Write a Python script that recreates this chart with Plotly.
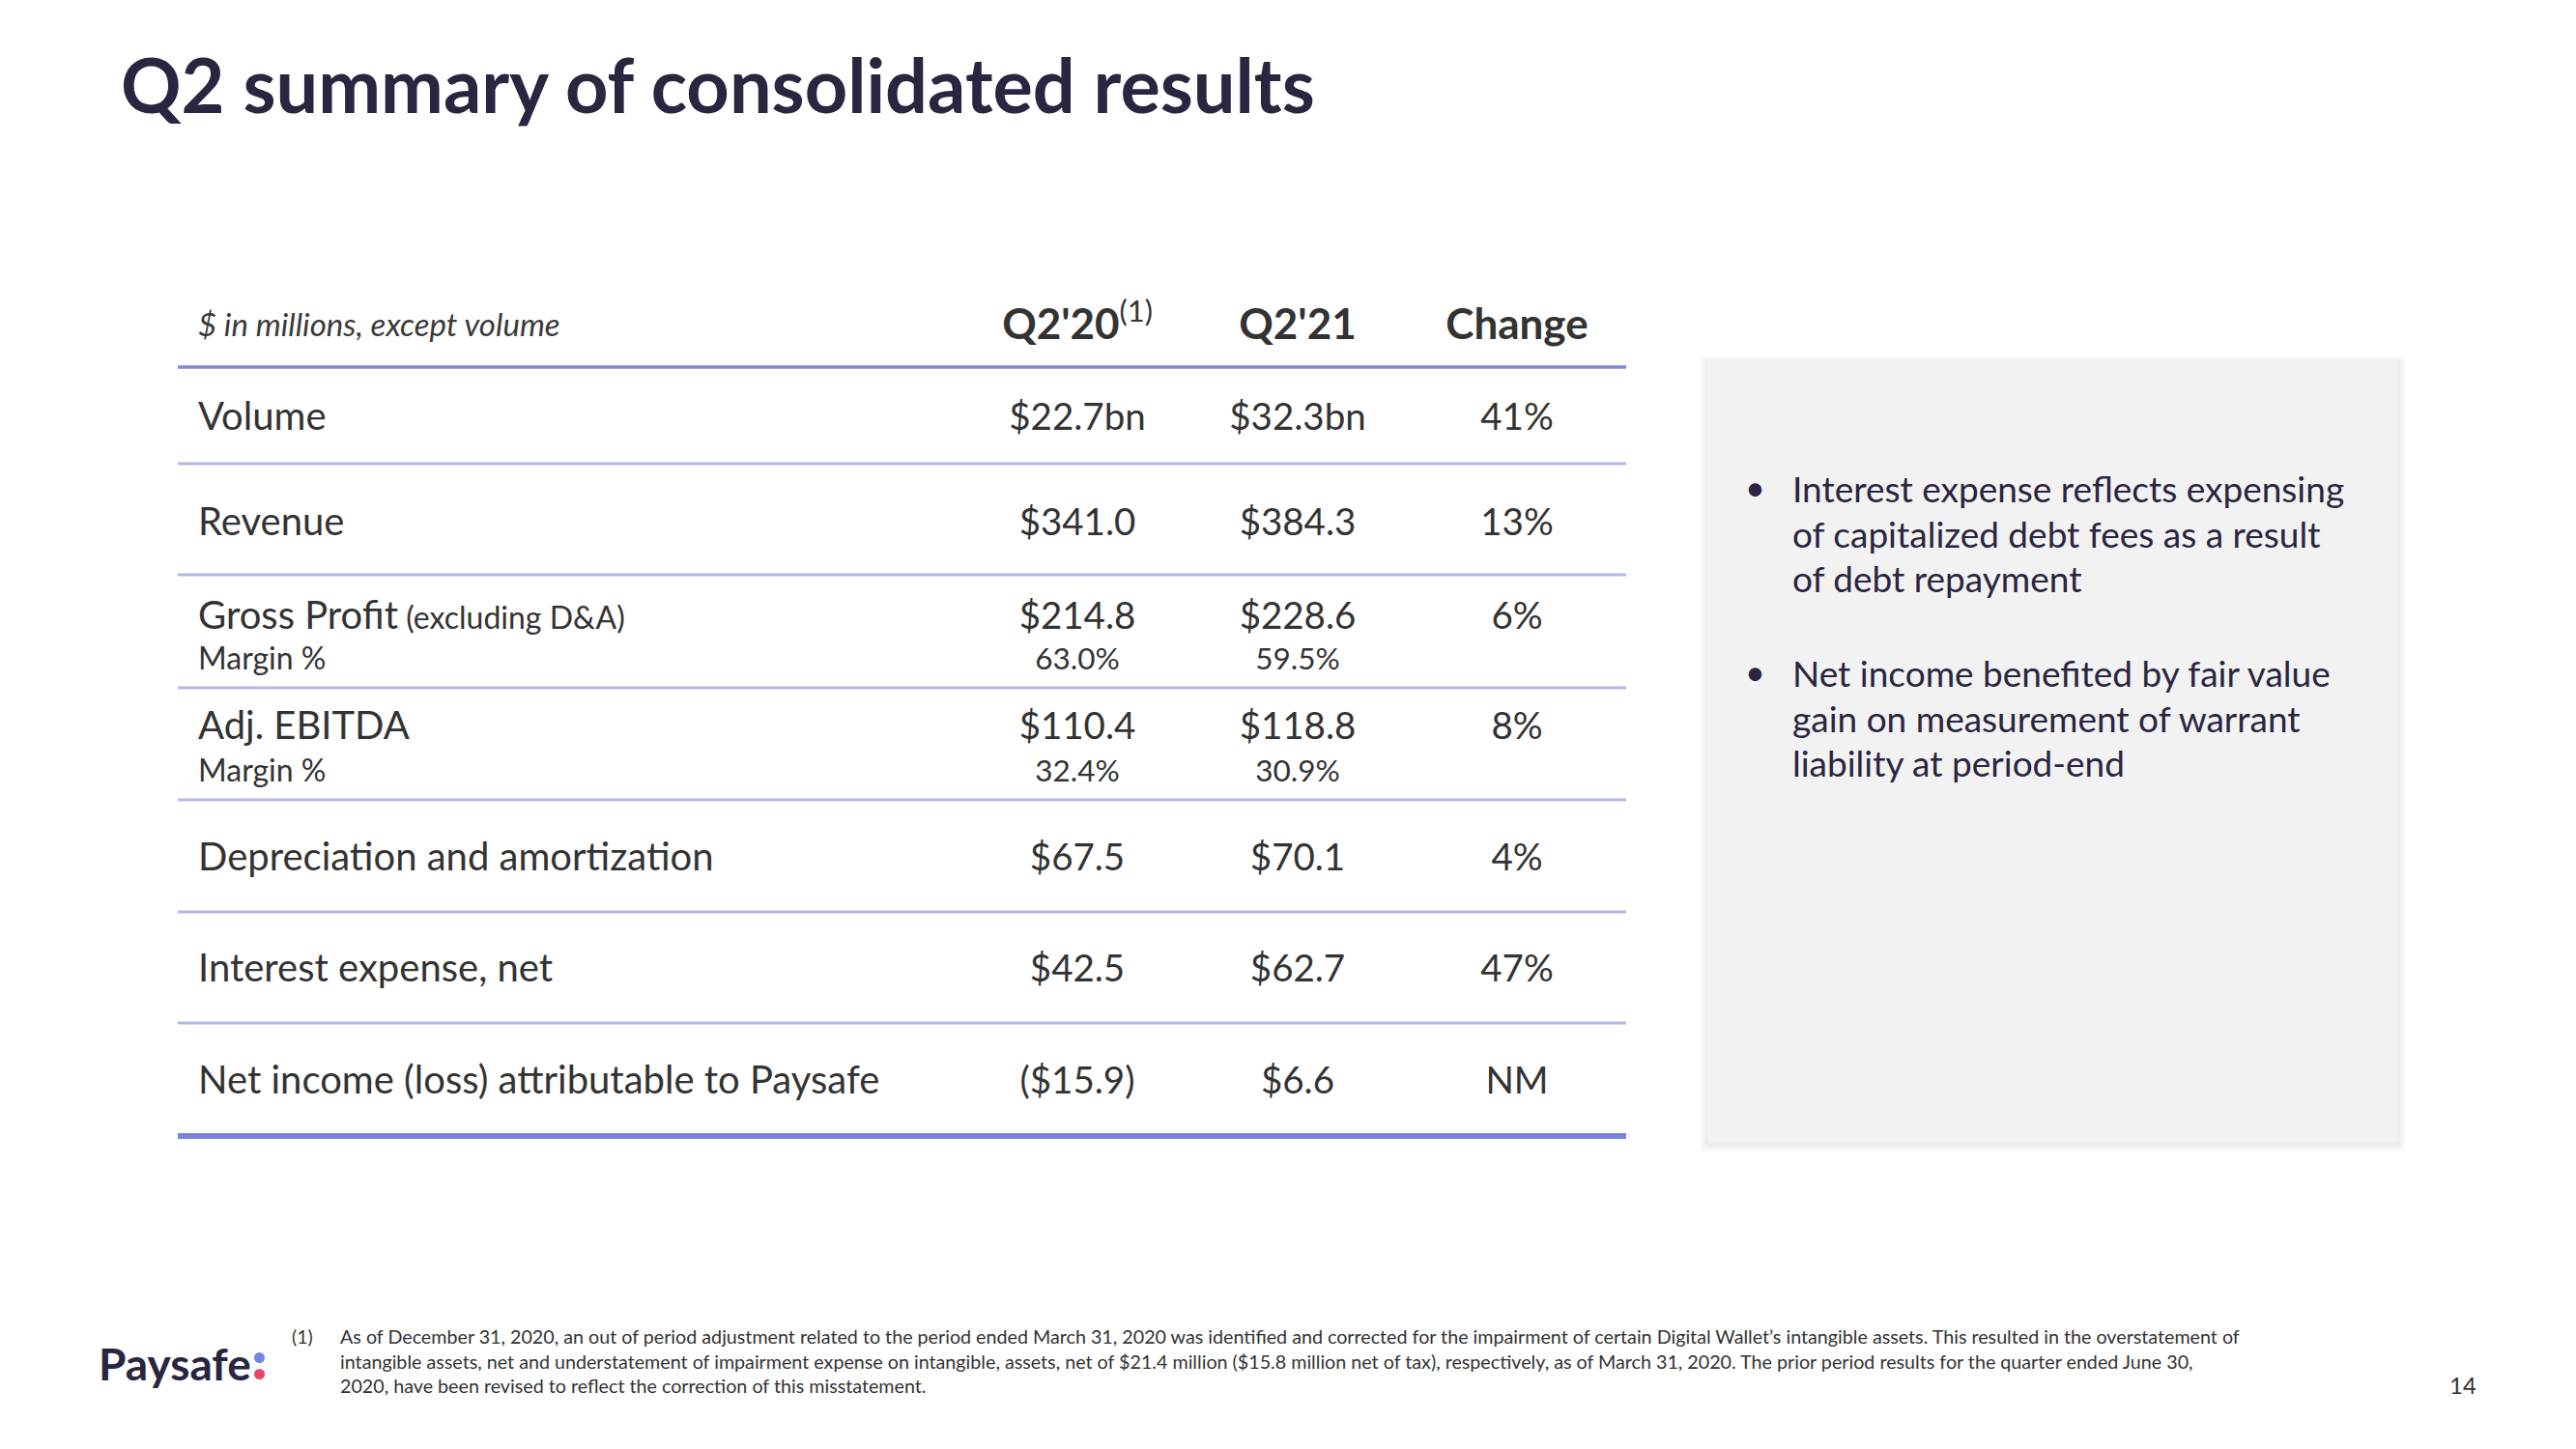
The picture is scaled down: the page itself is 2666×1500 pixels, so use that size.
import plotly.graph_objects as go

# ---------------- data ----------------
title_text = "Q2 summary of consolidated results"
unit_note = "$ in millions, except volume"
col_headers = ["Q2'20", "Q2'21", "Change"]
row_labels = ["Volume", "Revenue", "Gross Profit", "Adj. EBITDA",
              "Depreciation and amortization", "Interest expense, net",
              "Net income (loss) attributable to Paysafe"]
row_label_suffix = ["", "", " (excluding D&A)", "", "", "", ""]
q2_20 = ["$22.7bn", "$341.0", "$214.8", "$110.4", "$67.5", "$42.5", "($15.9)"]
q2_21 = ["$32.3bn", "$384.3", "$228.6", "$118.8", "$70.1", "$62.7", "$6.6"]
change = ["41%", "13%", "6%", "8%", "4%", "47%", "NM"]
margin_label = "Margin %"
margin_q2_20 = ["63.0%", "32.4%"]
margin_q2_21 = ["59.5%", "30.9%"]
bullets = [
    ["Interest expense reflects expensing", "of capitalized debt fees as a result", "of debt repayment"],
    ["Net income benefited by fair value", "gain on measurement of warrant", "liability at period-end"],
]
footnote_lines = [
    "As of December 31, 2020, an out of period adjustment related to the period ended March 31, 2020 was identified and corrected for the impairment of certain Digital Wallet\u2019s intangible assets. This resulted in the overstatement of",
    "intangible assets, net and understatement of impairment expense on intangible, assets, net of $21.4 million ($15.8 million net of tax), respectively, as of March 31, 2020. The prior period results for the quarter ended June 30,",
    "2020, have been revised to reflect the correction of this misstatement.",
]
page_number = "14"
logo_text = "Paysafe"

# ---------------- layout constants (pixels) ----------------
W, H = 2666, 1500
PAGE_MARGIN = 8  # default body margin of the html page
TEXT_DY = 5
FONT = "Lato"
NAVY = "#2a2540"
TXT = "#333333"
row_y = [430, 539, 636, 750, 886, 1001, 1117]
margin_y = [680, 796]
header_y = 335
label_x = 205
col_x = [1115, 1343, 1570]
line_x0, line_x1 = 184, 1683
light_lines = [480, 595, 712, 828, 944, 1059]
header_line = 380
bottom_line = 1176

fig = go.Figure()

def text_trace(xs, ys, texts, size, color, pos="middle center", family=FONT):
    fig.add_trace(go.Scatter(
        x=xs, y=[v + TEXT_DY for v in ys], text=texts, mode="text", textposition=pos,
        textfont=dict(family=family, size=size, color=color),
        hoverinfo="skip", showlegend=False, cliponaxis=False))

# title
text_trace([125], [93], [f"<b>{title_text}</b>"], 77.5, NAVY, "middle right")

# header
text_trace([label_x], [header_y], [f"<i>{unit_note}</i>"], 33, "#3a3a3a", "middle right")
hdr = [f"<b>{col_headers[0]}</b><sup>(1)</sup>", f"<b>{col_headers[1]}</b>", f"<b>{col_headers[2]}</b>"]
text_trace(col_x, [header_y] * 3, hdr, 44, TXT)

# row labels
labels = [lab + (f"<span style='font-size:32px'>{suf}</span>" if suf else "")
          for lab, suf in zip(row_labels, row_label_suffix)]
text_trace([label_x] * len(labels), row_y, labels, 40, TXT, "middle right")
text_trace([col_x[0]] * len(q2_20), row_y, q2_20, 38.5, TXT)
text_trace([col_x[1]] * len(q2_21), row_y, q2_21, 38.5, TXT)
text_trace([col_x[2]] * len(change), row_y, change, 38.5, TXT)

# margin rows
text_trace([label_x] * 2, margin_y, [margin_label] * 2, 32, TXT, "middle right")
text_trace([col_x[0]] * 2, margin_y, margin_q2_20, 31.5, TXT)
text_trace([col_x[1]] * 2, margin_y, margin_q2_21, 31.5, TXT)

shapes = []
# table lines
shapes.append(dict(type="line", x0=line_x0, x1=line_x1, y0=header_line, y1=header_line,
                   line=dict(color="#8088dd", width=3.5)))
for ly in light_lines:
    shapes.append(dict(type="line", x0=line_x0, x1=line_x1, y0=ly, y1=ly,
                       line=dict(color="#b3b8ea", width=3)))
shapes.append(dict(type="line", x0=line_x0, x1=line_x1, y0=bottom_line, y1=bottom_line,
                   line=dict(color="#7885e0", width=6)))

# right panel with soft shadow
px0, px1, py0, py1 = 1767, 2482, 373, 1183
for i, op in enumerate([0.012, 0.015, 0.018, 0.022]):
    d = 8 - 2 * i
    shapes.append(dict(type="rect", x0=px0 - d, x1=px1 + d, y0=py0 - d + 2, y1=py1 + d + 2,
                       fillcolor=f"rgba(0,0,0,{op})", line=dict(width=0), layer="below"))
shapes.append(dict(type="rect", x0=px0, x1=px1, y0=py0, y1=py1,
                   fillcolor="#f2f2f2", line=dict(width=0), layer="below"))

bullet_y0 = [506, 697]
line_gap = 46.5
for b, y0 in zip(bullets, bullet_y0):
    text_trace([1806], [y0 - 2], ["\u2022"], 36, NAVY, "middle right")
    text_trace([1855] * len(b), [y0 + i * line_gap for i in range(len(b))], b, 37, NAVY, "middle right")

# footnote
text_trace([302], [1381], ["(1)"], 19.5, TXT, "middle right")
text_trace([352] * len(footnote_lines), [1381, 1407, 1432], footnote_lines, 19.7, TXT, "middle right")
text_trace([2549], [1432], [page_number], 24, TXT)

# logo
text_trace([102], [1412], [f"<b>{logo_text}</b>"], 46, NAVY, "middle right")
shapes.append(dict(type="circle", x0=263, x1=274, y0=1400, y1=1411,
                   fillcolor="#6f86e8", line=dict(width=0)))
shapes.append(dict(type="circle", x0=263, x1=274, y0=1417, y1=1428,
                   fillcolor="#e8476a", line=dict(width=0)))

fw, fh = W - 2 * PAGE_MARGIN, H - 2 * PAGE_MARGIN
fig.update_layout(
    width=fw, height=fh, margin=dict(l=0, r=0, t=0, b=0),
    paper_bgcolor="white", plot_bgcolor="white", showlegend=False,
    xaxis=dict(range=[PAGE_MARGIN, PAGE_MARGIN + fw], visible=False, fixedrange=True),
    yaxis=dict(range=[PAGE_MARGIN + fh, PAGE_MARGIN], visible=False, fixedrange=True),
    shapes=shapes,
)
fig.write_html("out.html")
